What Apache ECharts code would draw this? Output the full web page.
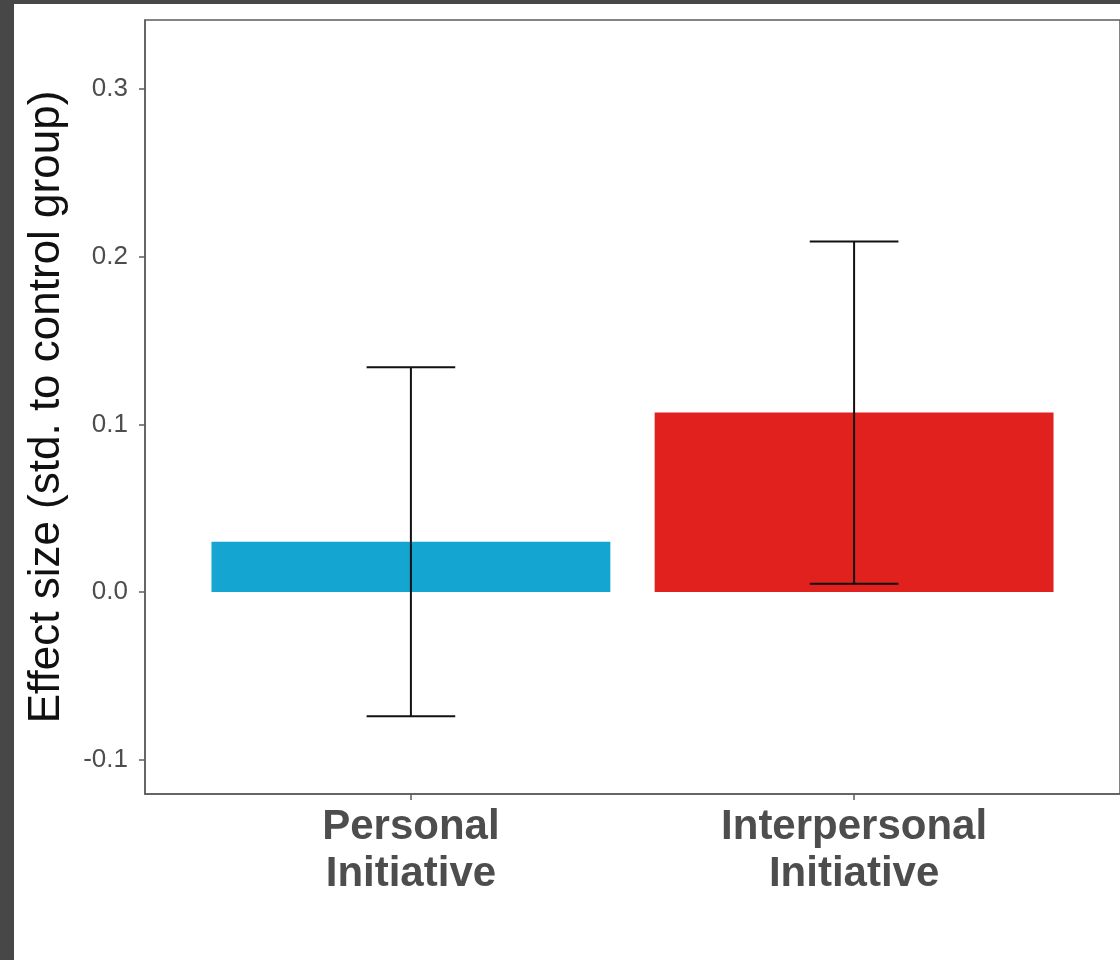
<!DOCTYPE html>
<html>
<head>
<meta charset="utf-8">
<script src="https://cdn.jsdelivr.net/npm/echarts@6/dist/echarts.min.js"></script>
<style>
  html, body { margin: 0; padding: 0; background: #474747; width: 1120px; height: 960px; overflow: hidden; }
  #panel { position: absolute; left: 14px; top: 4px; width: 1106px; height: 956px; background: #ffffff; }
  #chart { width: 100%; height: 100%; }
</style>
</head>
<body>
<div id="panel"><div id="chart"></div></div>
<script>
// Treatment effects relative to the control group, with confidence intervals
const categories = ['Personal\nInitiative', 'Interpersonal\nInitiative'];
const effect = [0.030, 0.107];
const ciLow = [-0.074, 0.005];
const ciHigh = [0.134, 0.209];
const barColors = ['#15A5D1', '#E0211D'];
const yTicks = [-0.1, 0.0, 0.1, 0.2, 0.3];

const positions = categories.map((_, i) => i + 1);
const barHalf = 0.45;
const capHalf = 0.1;

const chart = echarts.init(document.getElementById('chart'));

const axisGray = '#5c5c5c';

chart.setOption({
  animation: false,
  grid: {
    left: 131, top: 16, width: 977, height: 774,
    show: true, borderColor: axisGray, borderWidth: 1.5,
    backgroundColor: 'transparent'
  },
  xAxis: {
    type: 'value', min: 0.4, max: 2.6,
    splitLine: { show: false },
    axisLine: { show: true, onZero: false, lineStyle: { color: axisGray, width: 1.5 } },
    axisTick: { show: true, customValues: positions, length: 6, lineStyle: { color: axisGray, width: 1.5 } },
    axisLabel: {
      customValues: positions,
      formatter: v => categories[Math.round(v) - 1],
      margin: 10,
      fontFamily: 'Liberation Sans, Arial, sans-serif',
      fontWeight: 'bold', fontSize: 42, lineHeight: 47, color: '#4d4d4d'
    }
  },
  yAxis: {
    type: 'value', min: -0.1204, max: 0.3411,
    splitLine: { show: false },
    axisLine: { show: true, onZero: false, lineStyle: { color: axisGray, width: 1.5 } },
    axisTick: { show: true, customValues: yTicks, length: 6, lineStyle: { color: axisGray, width: 1.5 } },
    axisLabel: {
      customValues: yTicks,
      formatter: v => v.toFixed(1),
      margin: 17,
      fontFamily: 'Liberation Sans, Arial, sans-serif',
      fontSize: 26, color: '#4d4d4d'
    },
    name: 'Effect size (std. to control group)',
    nameLocation: 'middle',
    nameGap: 76,
    nameTextStyle: {
      fontFamily: 'Liberation Sans, Arial, sans-serif',
      fontSize: 44, color: '#111111'
    }
  },
  series: [
    {
      type: 'custom',
      data: positions.map((p, i) => [p, effect[i]]),
      renderItem: (params, api) => {
        const x = api.value(0), y = api.value(1);
        const a = api.coord([x - barHalf, y]);
        const b = api.coord([x + barHalf, 0]);
        return {
          type: 'rect',
          shape: { x: a[0], y: Math.min(a[1], b[1]), width: b[0] - a[0], height: Math.abs(b[1] - a[1]) },
          style: { fill: barColors[params.dataIndex] }
        };
      },
      z: 2
    },
    {
      type: 'custom',
      data: positions.map((p, i) => [p, ciLow[i], ciHigh[i]]),
      renderItem: (params, api) => {
        const x = api.value(0), lo = api.value(1), hi = api.value(2);
        const top = api.coord([x, hi]), bot = api.coord([x, lo]);
        const tl = api.coord([x - capHalf, hi]), tr = api.coord([x + capHalf, hi]);
        const bl = api.coord([x - capHalf, lo]), br = api.coord([x + capHalf, lo]);
        const style = { stroke: '#111111', lineWidth: 2 };
        return {
          type: 'group',
          children: [
            { type: 'line', shape: { x1: top[0], y1: top[1], x2: bot[0], y2: bot[1] }, style },
            { type: 'line', shape: { x1: tl[0], y1: tl[1], x2: tr[0], y2: tr[1] }, style },
            { type: 'line', shape: { x1: bl[0], y1: bl[1], x2: br[0], y2: br[1] }, style }
          ]
        };
      },
      z: 3
    }
  ]
});
</script>
</body>
</html>
